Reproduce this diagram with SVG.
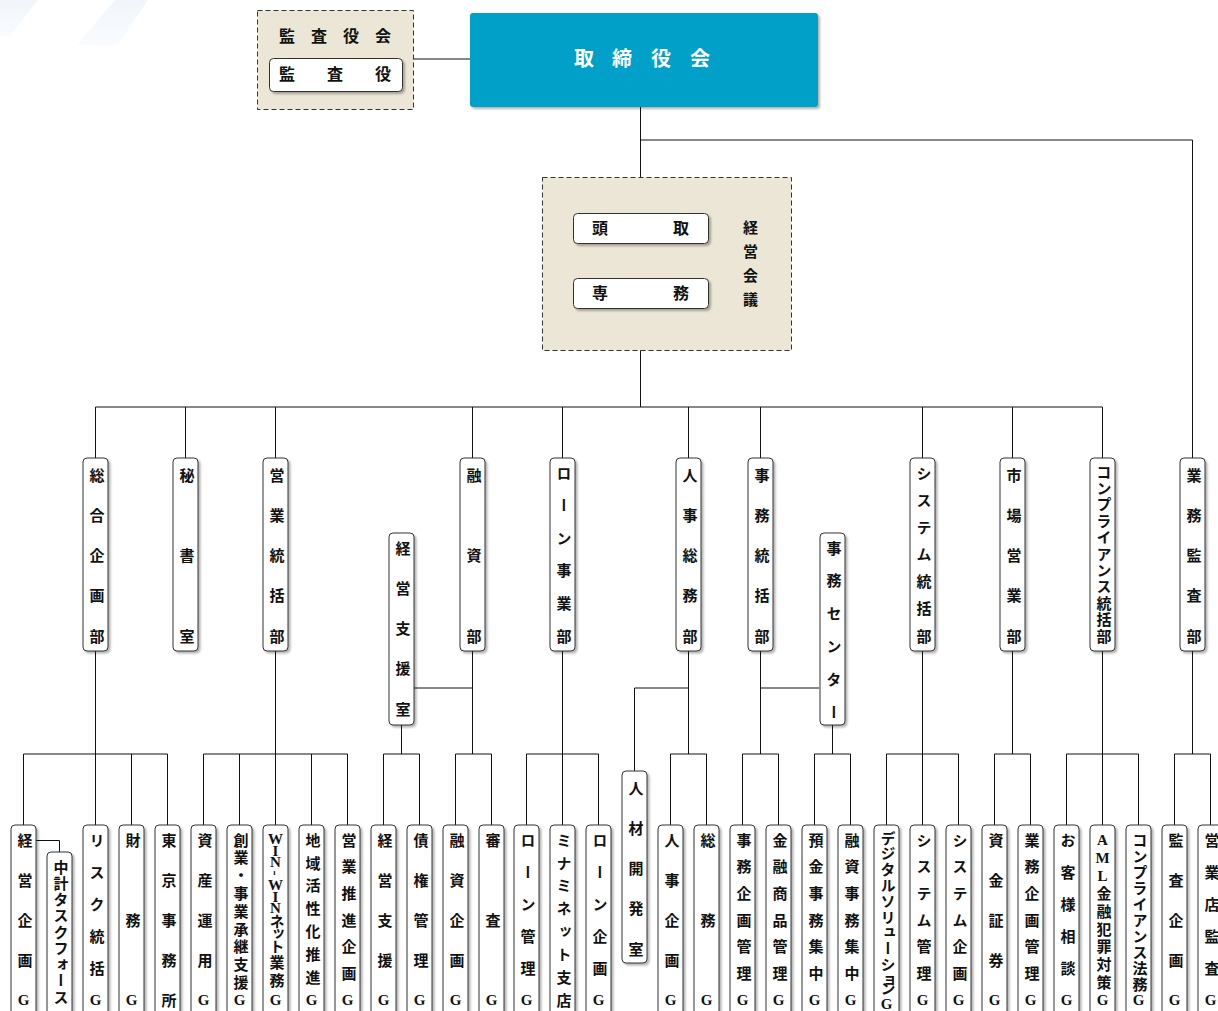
<svg xmlns="http://www.w3.org/2000/svg" width="1218" height="1011" viewBox="0 0 1218 1011">
<defs>
<filter id="sh" x="-30%" y="-10%" width="170%" height="130%"><feDropShadow dx="2" dy="2" stdDeviation="1" flood-color="#000" flood-opacity="0.3"/></filter>
<linearGradient id="deco" x1="0" y1="0" x2="0" y2="1"><stop offset="0" stop-color="#f1f6fc"/><stop offset="1" stop-color="#f9fbfe"/></linearGradient>
<style>
.ln{stroke:#111;stroke-width:1;fill:none}
.box{fill:#fff;stroke:#333;stroke-width:1}
.dash{fill:#ebe6d5;stroke:#333;stroke-width:1;stroke-dasharray:5 3}
.v{font-family:"Liberation Serif","Noto Sans CJK JP",serif;font-size:15px;font-weight:700;writing-mode:vertical-rl;text-orientation:upright;text-anchor:middle;fill:#111}
.h{font-family:"Liberation Serif","Noto Sans CJK JP",serif;font-size:16px;font-weight:700;text-anchor:middle;dominant-baseline:central;fill:#111}
.w{font-family:"Liberation Serif","Noto Sans CJK JP",serif;font-size:20px;font-weight:700;text-anchor:middle;dominant-baseline:central;fill:#fff}
</style>
</defs>
<rect width="1218" height="1011" fill="#fff"/>
<polygon points="0,0 38,0 10,36 0,36" fill="url(#deco)"/>
<polygon points="115,0 148,0 118,45 77,45" fill="url(#deco)"/>

<g id="connectors">
<path class="ln" d="M413 59H470"/>
<path class="ln" d="M640.5 107V407"/>
<path class="ln" d="M640.5 140H1192.5V458"/>
<path class="ln" d="M95.5 407H1102.5"/>
<path class="ln" d="M95.5 407V458M185.5 407V458M275.5 407V458M472.5 407V458M562.5 407V458M688.5 407V458M760.5 407V458M922.5 407V458M1012.5 407V458M1102.5 407V458"/>
<path class="ln" d="M95.5 651V825M275.5 651V825M472.5 651V754M562.5 651V825M688.5 651V754M760.5 651V754M922.5 651V754M1012.5 651V754M1102.5 651V825M1192.5 651V754"/>
<path class="ln" d="M414 688H472.5M688.5 688H634.5V771M760.5 688H819"/>
<path class="ln" d="M401.5 725V754M832.5 725V754"/>
<path class="ln" d="M23.5 754H167.5M203.5 754H347.5M383.5 754H419.5M455.5 754H491.5M526.5 754H598.5M670.5 754H706.5M742.5 754H778.5M814.5 754H850.5M886.5 754H958.5M994.5 754H1030.5M1066.5 754H1138.5M1174.5 754H1210.5"/>
<path class="ln" d="M23.5 754V825M131.5 754V825M167.5 754V825M203.5 754V825M239.5 754V825M311.5 754V825M347.5 754V825M383.5 754V825M419.5 754V825M455.5 754V825M491.5 754V825M526.5 754V825M598.5 754V825M670.5 754V825M706.5 754V825M742.5 754V825M778.5 754V825M814.5 754V825M850.5 754V825M886.5 754V825M922.5 754V825M958.5 754V825M994.5 754V825M1030.5 754V825M1066.5 754V825M1138.5 754V825M1174.5 754V825M1210.5 754V825"/>
<path class="ln" d="M36 840.5H59.5V852"/>
</g>

<g id="n-audit-board">
<rect class="dash" x="257.5" y="10.5" width="156" height="99"/>
<text class="h" x="287 319 351 383" y="36">監査役会</text>
</g>
<g id="n-auditor">
<rect class="box" x="269.5" y="58.5" width="133" height="33" rx="4" filter="url(#sh)"/>
<text class="h" x="287 335 383" y="74.5">監査役</text>
</g>
<g id="n-board">
<rect x="470" y="13" width="348" height="94" rx="3" fill="#00a0c8" filter="url(#sh)"/>
<text class="w" x="584 622 661 700" y="59">取締役会</text>
</g>

<g id="n-mgmt">
<rect class="dash" x="542.5" y="177.5" width="249" height="173"/>
<text class="v" x="749" y="227 251 275 299">経営会議</text>
</g>
<g id="n-president">
<rect class="box" x="573.5" y="213.5" width="135" height="30" rx="4" filter="url(#sh)"/>
<text class="h" x="600 681" y="228.5">頭取</text>
</g>
<g id="n-senmu">
<rect class="box" x="573.5" y="278.5" width="135" height="30" rx="4" filter="url(#sh)"/>
<text class="h" x="600 681" y="293.5">専務</text>
</g>

<!-- departments -->
<g id="d1"><rect class="box" x="83" y="458" width="25" height="193" rx="4" filter="url(#sh)"/><text class="v" x="95.5" y="475 515.25 555.5 595.75 636">総合企画部</text></g>
<g id="d2"><rect class="box" x="173" y="458" width="25" height="193" rx="4" filter="url(#sh)"/><text class="v" x="185.5" y="475 555.5 636">秘書室</text></g>
<g id="d3"><rect class="box" x="263" y="458" width="25" height="193" rx="4" filter="url(#sh)"/><text class="v" x="275.5" y="475 515.25 555.5 595.75 636">営業統括部</text></g>
<g id="d3s"><rect class="box" x="389" y="533" width="25" height="192" rx="4" filter="url(#sh)"/><text class="v" x="401.5" y="548 588.25 628.5 668.75 709">経営支援室</text></g>
<g id="d4"><rect class="box" x="460" y="458" width="25" height="193" rx="4" filter="url(#sh)"/><text class="v" x="472.5" y="475 555.5 636">融資部</text></g>
<g id="d5"><rect class="box" x="550" y="458" width="25" height="193" rx="4" filter="url(#sh)"/><text class="v" x="562.5" y="473 505.6 538.2 570.8 603.4 636">ローン事業部</text></g>
<g id="d6"><rect class="box" x="676" y="458" width="25" height="193" rx="4" filter="url(#sh)"/><text class="v" x="688.5" y="475 515.25 555.5 595.75 636">人事総務部</text></g>
<g id="d7"><rect class="box" x="748" y="458" width="25" height="193" rx="4" filter="url(#sh)"/><text class="v" x="760.5" y="475 515.25 555.5 595.75 636">事務統括部</text></g>
<g id="d7s"><rect class="box" x="820" y="533" width="25" height="192" rx="4" filter="url(#sh)"/><text class="v" x="832.5" y="548 580.8 613.6 646.4 679.2 712">事務センター</text></g>
<g id="d8"><rect class="box" x="910" y="458" width="25" height="193" rx="4" filter="url(#sh)"/><text class="v" x="922.5" y="473 500.2 527.3 554.5 581.7 608.8 636">システム統括部</text></g>
<g id="d9"><rect class="box" x="1000" y="458" width="25" height="193" rx="4" filter="url(#sh)"/><text class="v" x="1012.5" y="475 515.25 555.5 595.75 636">市場営業部</text></g>
<g id="d10"><rect class="box" x="1090" y="458" width="25" height="193" rx="4" filter="url(#sh)"/><text class="v" x="1102.5" y="472 488.4 504.8 521.2 537.6 554 570.4 586.8 603.2 619.6 636">コンプライアンス統括部</text></g>
<g id="d11"><rect class="box" x="1180" y="458" width="25" height="193" rx="4" filter="url(#sh)"/><text class="v" x="1192.5" y="475 515.25 555.5 595.75 636">業務監査部</text></g>

<!-- groups -->
<g id="g0"><rect class="box" x="11" y="825" width="25" height="200" rx="4" filter="url(#sh)"/><text class="v" x="23.5" y="840 880 920 960 1000">経営企画G</text></g>
<g id="g1"><rect class="box" x="47" y="852" width="25" height="200" rx="4" filter="url(#sh)"/><text class="v" x="59.5" y="867 883.25 899.5 915.75 932 948.25 964.5 980.75 997">中計タスクフォース</text></g>
<g id="g2"><rect class="box" x="83" y="825" width="25" height="200" rx="4" filter="url(#sh)"/><text class="v" x="95.5" y="840 872 904 936 968 1000">リスク統括G</text></g>
<g id="g3"><rect class="box" x="119" y="825" width="25" height="200" rx="4" filter="url(#sh)"/><text class="v" x="131.5" y="840 920 1000">財務G</text></g>
<g id="g4"><rect class="box" x="155" y="825" width="25" height="200" rx="4" filter="url(#sh)"/><text class="v" x="167.5" y="840 880 920 960 1000">東京事務所</text></g>
<g id="g5"><rect class="box" x="191" y="825" width="25" height="200" rx="4" filter="url(#sh)"/><text class="v" x="203.5" y="840 880 920 960 1000">資産運用G</text></g>
<g id="g6"><rect class="box" x="227" y="825" width="25" height="200" rx="4" filter="url(#sh)"/><text class="v" x="239.5" y="840 857.8 875.6 893.3 911.1 928.9 946.7 964.4 982.2 1000">創業・事業承継支援G</text></g>
<g id="g7"><rect class="box" x="263" y="825" width="25" height="200" rx="4" filter="url(#sh)"/><text class="v" x="275.5" y="839 851 862 873 885 897 908 921 933 946 962 980 1000">WIN<tspan style="text-orientation:sideways">-</tspan>WINネット業務G</text></g>
<g id="g8"><rect class="box" x="299" y="825" width="25" height="200" rx="4" filter="url(#sh)"/><text class="v" x="311.5" y="840 862.9 885.7 908.6 931.4 954.3 977.1 1000">地域活性化推進G</text></g>
<g id="g9"><rect class="box" x="335" y="825" width="25" height="200" rx="4" filter="url(#sh)"/><text class="v" x="347.5" y="840 866.7 893.3 920 946.7 973.3 1000">営業推進企画G</text></g>
<g id="g10"><rect class="box" x="371" y="825" width="25" height="200" rx="4" filter="url(#sh)"/><text class="v" x="383.5" y="840 880 920 960 1000">経営支援G</text></g>
<g id="g11"><rect class="box" x="407" y="825" width="25" height="200" rx="4" filter="url(#sh)"/><text class="v" x="419.5" y="840 880 920 960 1000">債権管理G</text></g>
<g id="g12"><rect class="box" x="443" y="825" width="25" height="200" rx="4" filter="url(#sh)"/><text class="v" x="455.5" y="840 880 920 960 1000">融資企画G</text></g>
<g id="g13"><rect class="box" x="479" y="825" width="25" height="200" rx="4" filter="url(#sh)"/><text class="v" x="491.5" y="840 920 1000">審査G</text></g>
<g id="g14"><rect class="box" x="514" y="825" width="25" height="200" rx="4" filter="url(#sh)"/><text class="v" x="526.5" y="840 872 904 936 968 1000">ローン管理G</text></g>
<g id="g15"><rect class="box" x="550" y="825" width="25" height="200" rx="4" filter="url(#sh)"/><text class="v" x="562.5" y="840 862.9 885.7 908.6 931.4 954.3 977.1 1000">ミナミネット支店</text></g>
<g id="g16"><rect class="box" x="586" y="825" width="25" height="200" rx="4" filter="url(#sh)"/><text class="v" x="598.5" y="840 872 904 936 968 1000">ローン企画G</text></g>
<g id="g17"><rect class="box" x="622" y="771" width="25" height="192" rx="4" filter="url(#sh)"/><text class="v" x="634.5" y="788 828.25 868.5 908.75 949">人材開発室</text></g>
<g id="g18"><rect class="box" x="658" y="825" width="25" height="200" rx="4" filter="url(#sh)"/><text class="v" x="670.5" y="840 880 920 960 1000">人事企画G</text></g>
<g id="g19"><rect class="box" x="694" y="825" width="25" height="200" rx="4" filter="url(#sh)"/><text class="v" x="706.5" y="840 920 1000">総務G</text></g>
<g id="g20"><rect class="box" x="730" y="825" width="25" height="200" rx="4" filter="url(#sh)"/><text class="v" x="742.5" y="840 866.7 893.3 920 946.7 973.3 1000">事務企画管理G</text></g>
<g id="g21"><rect class="box" x="766" y="825" width="25" height="200" rx="4" filter="url(#sh)"/><text class="v" x="778.5" y="840 866.7 893.3 920 946.7 973.3 1000">金融商品管理G</text></g>
<g id="g22"><rect class="box" x="802" y="825" width="25" height="200" rx="4" filter="url(#sh)"/><text class="v" x="814.5" y="840 866.7 893.3 920 946.7 973.3 1000">預金事務集中G</text></g>
<g id="g23"><rect class="box" x="838" y="825" width="25" height="200" rx="4" filter="url(#sh)"/><text class="v" x="850.5" y="840 866.7 893.3 920 946.7 973.3 1000">融資事務集中G</text></g>
<g id="g24"><rect class="box" x="874" y="825" width="25" height="200" rx="4" filter="url(#sh)"/><text class="v" x="886.5" y="838 853.8 869.6 885.4 901.2 917 932.8 948.6 964.4 980.2 996">デジタルソリューションG</text></g>
<g id="g25"><rect class="box" x="910" y="825" width="25" height="200" rx="4" filter="url(#sh)"/><text class="v" x="922.5" y="840 866.7 893.3 920 946.7 973.3 1000">システム管理G</text></g>
<g id="g26"><rect class="box" x="946" y="825" width="25" height="200" rx="4" filter="url(#sh)"/><text class="v" x="958.5" y="840 866.7 893.3 920 946.7 973.3 1000">システム企画G</text></g>
<g id="g27"><rect class="box" x="982" y="825" width="25" height="200" rx="4" filter="url(#sh)"/><text class="v" x="994.5" y="840 880 920 960 1000">資金証券G</text></g>
<g id="g28"><rect class="box" x="1018" y="825" width="25" height="200" rx="4" filter="url(#sh)"/><text class="v" x="1030.5" y="840 866.7 893.3 920 946.7 973.3 1000">業務企画管理G</text></g>
<g id="g29"><rect class="box" x="1054" y="825" width="25" height="200" rx="4" filter="url(#sh)"/><text class="v" x="1066.5" y="840 872 904 936 968 1000">お客様相談G</text></g>
<g id="g30"><rect class="box" x="1090" y="825" width="25" height="200" rx="4" filter="url(#sh)"/><text class="v" x="1102.5" y="840 857.8 875.6 893.3 911.1 928.9 946.7 964.4 982.2 1000">AML金融犯罪対策G</text></g>
<g id="g31"><rect class="box" x="1126" y="825" width="25" height="200" rx="4" filter="url(#sh)"/><text class="v" x="1138.5" y="840 856 872 888 904 920 936 952 968 984 1000">コンプライアンス法務G</text></g>
<g id="g32"><rect class="box" x="1162" y="825" width="25" height="200" rx="4" filter="url(#sh)"/><text class="v" x="1174.5" y="840 880 920 960 1000">監査企画G</text></g>
<g id="g33"><rect class="box" x="1198" y="825" width="25" height="200" rx="4" filter="url(#sh)"/><text class="v" x="1210.5" y="840 872 904 936 968 1000">営業店監査G</text></g>
</svg>
